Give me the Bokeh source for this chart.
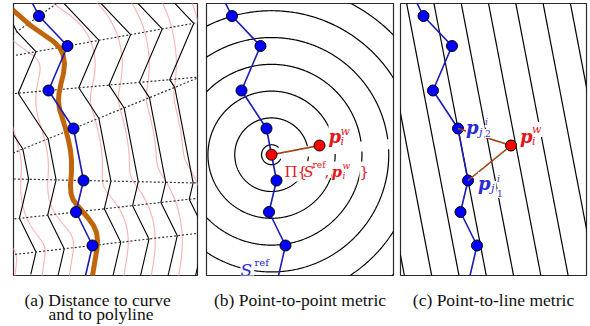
import numpy as np
from bokeh.plotting import figure
from bokeh.layouts import row, column
from bokeh.models import Range1d
from bokeh.embed import file_html
from bokeh.resources import INLINE
from bokeh.core.properties import value

# ---------------- data (panel coordinates: px from frame left / frame top) ----
# reference polyline S_ref; first and last entries are off-frame continuations
poly_x = [14.0, 25.5, 54.0, 35.0, 60.0, 70.0, 62.5, 79.0, 69.5]
poly_y = [-10.0, 12.5, 42.5, 87.0, 125.0, 177.0, 208.5, 242.0, 283.0]
# smooth reference curve (orange) in panel (a)
curve_x = [-20.0, 0.0, 17.0, 30.0, 40.0, 46.0, 49.5, 51.0, 50.0, 47.5, 45.5, 45.0, 46.0, 49.0,
           52.0, 55.0, 57.0, 58.0, 58.0, 57.0, 57.5, 59.5, 63.0, 69.0, 75.0, 80.0, 83.0, 84.0, 83.5,
           82.0, 80.5, 79.0, 77.0]
curve_y = [-8.0, 7.0, 22.0, 31.0, 38.0, 44.0, 51.0, 60.0, 70.0, 80.0, 90.0, 97.0, 106.0, 115.0,
           125.0, 137.0, 147.0, 157.0, 168.0, 182.0, 190.0, 196.0, 201.0, 208.0, 215.0, 222.0, 229.0,
           237.0, 245.0, 254.0, 263.0, 272.0, 290.0]
# warped point p_i^w
pw_x, pw_y = 113.0, 142.0
j2_idx, j1_idx = 4, 5           # p_{j2^i}, p_{j1^i} in poly arrays
level_step = 26.8               # spacing of iso-lines
circle_r0 = 10.0                # radius of first circle
curve_levels = [-77.0, -50.0, -23.0, 31.0, 58.0, 85.0, 112.0, 139.0, 166.0]

cap_t = ["(a) Distance to curve", "and to polyline", "(b) Point-to-point metric", "(c) Point-to-line metric"]

BLUE = "#0000ff"
BLUE_LINE = "#1a1ab4"
RED = "#ff0000"
RED_TXT = "#e4151b"
BLUE_TXT = "#2b2bd6"

P = np.column_stack([poly_x, poly_y]).astype(float)
U = np.diff(P, axis=0)
U = U / np.hypot(U[:, 0], U[:, 1])[:, None]
N = np.column_stack([U[:, 1], -U[:, 0]])

# miter directions (bisectors) at every vertex
B = np.zeros_like(P)
B[0], B[-1] = N[0], N[-1]
for j in range(1, len(P) - 1):
    s = N[j - 1] + N[j]
    s = s / np.hypot(*s)
    B[j] = s / np.dot(s, N[j])


def base_fig(w, h, x0, x1, y1, bl, br, bt, bb):
    f = figure(width=w, height=h, x_range=Range1d(x0, x1), y_range=Range1d(y1, 0),
               output_backend="svg", toolbar_location=None,
               x_axis_location=None, y_axis_location=None,
               min_border_left=bl, min_border_right=br, min_border_top=bt, min_border_bottom=bb)
    f.grid.visible = False
    f.outline_line_color = "#2a2a2a"
    f.outline_line_width = 1.2
    f.background_fill_color = "white"
    f.border_fill_color = "white"
    return f


def labels(f, pieces):
    # pieces: (x, y, text, size, style, color)
    for (x, y, t, s, st, c) in pieces:
        f.text(x=[x], y=[y], text=[t], text_font=value("DejaVu Serif"), text_font_size=s,
               text_font_style=st, text_alpha=0, text_baseline="alphabetic",
               background_fill_color="white", padding=1)
    for (x, y, t, s, st, c) in pieces:
        f.text(x=[x], y=[y], text=[t], text_font=value("DejaVu Serif"), text_font_size=s,
               text_font_style=st, text_color=c, text_baseline="alphabetic")


def draw_polyline(f):
    f.line(poly_x, poly_y, line_color=BLUE_LINE, line_width=1.6)
    f.scatter(poly_x[1:-1], poly_y[1:-1], size=11, fill_color=BLUE, line_color="black", line_width=1)


# ---------------- panel (a) ----------------
fa = base_fig(201, 279, 0, 184, 272, 13, 4, 3, 4)

# pink iso-lines: smoothed signed distance to the curve
C = np.column_stack([curve_x, curve_y])
gx = np.arange(-30, 215, 1.0)
gy = np.arange(-30, 305, 1.0)
X, Y = np.meshgrid(gx, gy)
D = np.full(X.shape, np.inf)
for i in range(len(C) - 1):
    a, b = C[i], C[i + 1]
    ab = b - a
    t = ((X - a[0]) * ab[0] + (Y - a[1]) * ab[1]) / (ab @ ab)
    t = np.clip(t, 0, 1)
    D = np.minimum(D, np.hypot(X - (a[0] + t * ab[0]), Y - (a[1] + t * ab[1])))
Z = np.sign(X - np.interp(Y, curve_y, curve_x)) * D
kern = np.exp(-0.5 * (np.arange(-15, 16) / 6.0) ** 2)
kern /= kern.sum()
Z = np.apply_along_axis(lambda r: np.convolve(r, kern, mode="same"), 1, Z)
Z = np.apply_along_axis(lambda c: np.convolve(c, kern, mode="same"), 0, Z)
fa.contour(X, Y, Z, curve_levels, line_color="#ffb0b0", line_width=1.1)

levels = list(range(-4, 8))
grid = {k: P + k * level_step * B for k in levels}
for k in levels:
    if k != 0:
        fa.line(grid[k][:, 0], grid[k][:, 1], line_color="black", line_width=1.1)

# dashed rays through the polyline vertices
rx = [[grid[levels[0]][j, 0], grid[levels[-1]][j, 0]] for j in range(1, len(P) - 1)]
ry = [[grid[levels[0]][j, 1], grid[levels[-1]][j, 1]] for j in range(1, len(P) - 1)]
fa.multi_line(rx, ry, line_color="#333333", line_width=1.2, line_dash="2 2")

# rays of vertices 3 and 4 meet on the right: continue along their mean direction
j3, j4 = 3, 4
d1, d2 = B[j3] / np.hypot(*B[j3]), B[j4] / np.hypot(*B[j4])
cr = d1[0] * d2[1] - d1[1] * d2[0]
if abs(cr) > 1e-9:
    dv = P[j4] - P[j3]
    s1 = (dv[0] * d2[1] - dv[1] * d2[0]) / cr
    q = P[j3] + s1 * d1
    dm = (d1 + d2) / np.hypot(*(d1 + d2))
    fa.line([q[0], q[0] + 200 * dm[0]], [q[1], q[1] + 200 * dm[1]],
            line_color="#22bbbb", line_width=1.2, line_dash="2 2")

fa.line(curve_x, curve_y, line_color="#c0650c", line_width=5)
draw_polyline(fa)

# ---------------- panel (b) ----------------
fb = base_fig(195, 279, 0, 187, 272, 5, 3, 3, 4)
seg = j2_idx
t_proj = np.dot(np.array([pw_x, pw_y]) - P[seg], U[seg])
proj = P[seg] + t_proj * U[seg]
ang_red = np.arctan2(pw_y - proj[1], pw_x - proj[0])
cxs, cys = [], []
for k in range(9):
    r = circle_r0 + k * level_step
    if k == 0:
        g0, gh = ang_red, 0.6
    else:
        g0, gh = -0.09, 5.0 / r
    th = np.linspace(g0 + gh, g0 + 2 * np.pi - gh, 720)
    cxs.append(list(proj[0] + r * np.cos(th)))
    cys.append(list(proj[1] + r * np.sin(th)))
fb.multi_line(cxs, cys, line_color="black", line_width=1.2)
draw_polyline(fb)
fb.line([proj[0], pw_x], [proj[1], pw_y], line_color=RED, line_width=1.4)
fb.line([proj[0], pw_x], [proj[1], pw_y], line_color="#2ea02e", line_width=1.4, line_dash="2 2")
fb.scatter([proj[0], pw_x], [proj[1], pw_y], size=11, fill_color=RED, line_color="black", line_width=1)
labels(fb, [
    (122, 133, "p", "18px", "bold italic", RED_TXT),
    (134, 128, "w", "11px", "italic", RED_TXT),
    (134, 137.5, "i", "11px", "italic", RED_TXT),
    (78, 168, "\u03a0{", "15px", "normal", RED_TXT),
    (97, 168, "S", "15px", "italic", RED_TXT),
    (106, 161, "ref", "9px", "normal", RED_TXT),
    (118, 168, ",", "15px", "normal", RED_TXT),
    (125, 168, "p", "15px", "bold italic", RED_TXT),
    (136, 172, "i", "9px", "italic", RED_TXT),
    (136, 162, "w", "9px", "italic", RED_TXT),
    (153, 168, "}", "15px", "normal", RED_TXT),
    (34, 266, "S", "17px", "italic", BLUE_TXT),
    (48, 259, "ref", "10px", "normal", BLUE_TXT),
])

# ---------------- panel (c) ----------------
fc = base_fig(194, 279, 2.5, 188.5, 272, 4, 4, 3, 4)
u = U[seg]
n = N[seg]
lx, ly = [], []
for k in range(-4, 8):
    o = P[seg] + k * level_step * n
    lx.append([o[0] - 400 * u[0], o[0] + 400 * u[0]])
    ly.append([o[1] - 400 * u[1], o[1] + 400 * u[1]])
fc.multi_line(lx, ly, line_color="black", line_width=1.2)
draw_polyline(fc)
for idx in (j2_idx, j1_idx):
    fc.line([P[idx, 0], pw_x], [P[idx, 1], pw_y], line_color=RED, line_width=1.4)
    fc.line([P[idx, 0], pw_x], [P[idx, 1], pw_y], line_color="#2ea02e", line_width=1.4, line_dash="2 2")
fc.scatter([pw_x], [pw_y], size=11, fill_color=RED, line_color="black", line_width=1)
labels(fc, [
    (68, 124, "p", "18px", "bold italic", BLUE_TXT),
    (81, 129, "j", "11px", "italic", BLUE_TXT),
    (87, 118, "i", "9px", "italic", BLUE_TXT),
    (87, 130, "2", "9px", "normal", BLUE_TXT),
    (122, 133, "p", "18px", "bold italic", RED_TXT),
    (134, 126, "w", "11px", "italic", RED_TXT),
    (134, 137.5, "i", "11px", "italic", RED_TXT),
    (80, 180, "p", "18px", "bold italic", BLUE_TXT),
    (93, 185, "j", "11px", "italic", BLUE_TXT),
    (99, 175, "i", "9px", "italic", BLUE_TXT),
    (99, 190, "1", "9px", "normal", BLUE_TXT),
])

# ---------------- captions ----------------
fcap = figure(width=590, height=47, x_range=Range1d(0, 590), y_range=Range1d(47, 0),
              output_backend="svg", toolbar_location=None,
              x_axis_location=None, y_axis_location=None,
              min_border_left=0, min_border_right=0, min_border_top=0, min_border_bottom=0)
fcap.grid.visible = False
fcap.outline_line_color = None
cap_font = dict(text_font=value("Liberation Serif"), text_font_size="17.5px",
                text_color="#111111", text_baseline="alphabetic")
fcap.text(x=[24.0, 48.0], y=[20.0, 34.5], text=cap_t[:2], text_align="left", **cap_font)
fcap.text(x=[299.5, 493.0], y=[20.0, 20.0], text=cap_t[2:], text_align="center", **cap_font)

layout = column(row(fa, fb, fc), fcap)

open("out.html", "w").write(file_html(layout, INLINE))
